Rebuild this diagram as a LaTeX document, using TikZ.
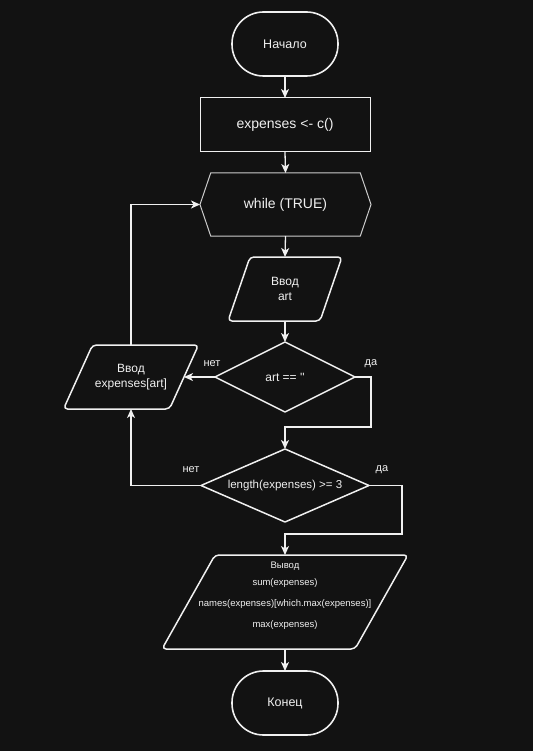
\documentclass[tikz,border=0pt]{standalone}
\usepackage{fontspec}
\newfontfamily\lsans{Liberation Sans}
\usetikzlibrary{arrows.meta}
\definecolor{bg}{HTML}{121212}
\definecolor{fg}{HTML}{F0F0F0}
\tikzset{
  box/.style={draw=none, inner sep=0pt, outer sep=0pt, text=fg, align=center, font=\lsans\fontsize{12}{14.5}\selectfont},
  term/.style={box, draw=fg, line width=1.6pt, rounded corners=31.5pt, minimum width=106pt, minimum height=64pt, font=\lsans\fontsize{12.5}{15}\selectfont},
  shp/.style={draw=fg, line width=1.5pt, line join=round},
  thin/.style={draw=fg, line width=1pt},
  conn/.style={draw=fg, line width=1.3pt, -{Stealth[length=9pt,width=8pt,inset=2.5pt]}},
  lbl/.style={text=fg, inner sep=0pt, font=\lsans\fontsize{11}{13}\selectfont}
}
\begin{document}
\begin{tikzpicture}[x=1pt,y=-1pt]
\fill[bg] (0,0) rectangle (533,751);
\useasboundingbox (0,0) rectangle (533,751);

% nodes
\node[term] (start) at (285,44) {Начало};
\node[box, thin, minimum width=170pt, minimum height=54pt, font=\lsans\fontsize{14}{17}\selectfont] (init) at (285,125) {expenses <- c()};
\node[box, minimum width=171pt, minimum height=63pt, font=\lsans\fontsize{14}{17}\selectfont] (loop) at (285.5,204.5) {while (TRUE)};
\node[box, minimum width=114pt, minimum height=64pt] (inart) at (285,289) {Ввод\\art};
\node[box, minimum width=140pt, minimum height=70pt] (c1) at (285,377) {art == ''};
\node[box, minimum width=135pt, minimum height=64pt] (inexp) at (131,377) {Ввод\\expenses[art]};
\node[box, minimum width=168pt, minimum height=73pt, font=\lsans\fontsize{11.5}{14}\selectfont] (c2) at (285,485.5) {length(expenses) >= 3};
\node[box, minimum width=246pt, minimum height=94pt] (out) at (285,602) {};
\node[box, font=\lsans\fontsize{9.5}{11}\selectfont] (outtxt) at (285,596) {Вывод\\[6pt]sum(expenses)\\[10pt]names(expenses)[which.max(expenses)]\\[10pt]max(expenses)};
\node[term] (end) at (285,703) {Конец};

% outlines
\draw[thin, draw=fg!85!black] (loop.west) -- ([xshift=10.7pt]loop.north west) -- ([xshift=-10.7pt]loop.north east) -- (loop.east) -- ([xshift=-10.7pt]loop.south east) -- ([xshift=10.7pt]loop.south west) -- cycle;
\draw[shp, rounded corners=4pt] ([xshift=22pt]inart.north west) -- (inart.north east) -- ([xshift=-22pt]inart.south east) -- (inart.south west) -- cycle;
\draw[shp] (c1.north) -- (c1.east) -- (c1.south) -- (c1.west) -- cycle;
\draw[shp, rounded corners=4pt] ([xshift=29pt]inexp.north west) -- (inexp.north east) -- ([xshift=-29pt]inexp.south east) -- (inexp.south west) -- cycle;
\draw[shp] (c2.north) -- (c2.east) -- (c2.south) -- (c2.west) -- cycle;
\draw[shp, rounded corners=4pt] ([xshift=53pt]out.north west) -- (out.north east) -- ([xshift=-53pt]out.south east) -- (out.south west) -- cycle;

% connectors
\draw[conn] (start.south) -- (init.north);
\draw[conn] (init.south) -- (loop.north);
\draw[conn] (loop.south) -- (inart.north);
\draw[conn] (inart.south) -- (c1.north);
\draw[conn] (c1.west) -- ([xshift=-14.5pt]inexp.east);
\draw[conn] (c1.east) -- ++(16,0) -- ++(0,50) -| (c2.north);
\draw[conn] (c2.west) -| (inexp.south);
\draw[conn] (c2.east) -- ++(33,0) -- ++(0,48.5) -| (out.north);
\draw[conn] (inexp.north) |- (loop.west);
\draw[conn] (out.south) -- (end.north);

% labels
\node[lbl] (l1) at (212,364) {нет};
\node[lbl] (l2) at (371,364) {да};
\node[lbl] (l3) at (191,470) {нет};
\node[lbl] (l4) at (382,470) {да};
\end{tikzpicture}
\end{document}
